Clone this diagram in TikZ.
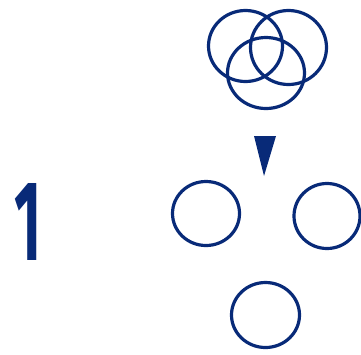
\documentclass[tikz,border=0pt]{standalone}
\usepackage{fontspec}
\setsansfont{Fira Sans}
\definecolor{navy}{RGB}{8,42,120}
\begin{document}
\begin{tikzpicture}[x=1pt,y=-1pt,
  ring/.style={draw=navy,line width=3.2pt},
  num/.style={text=navy,font=\sffamily\bfseries,inner sep=0pt,anchor=south}]
\useasboundingbox (0,0) rectangle (361,354);
\draw[ring] (245.5,46) ellipse [x radius=37,y radius=35.5];
\draw[ring] (288.5,47.5) ellipse [x radius=38,y radius=37];
\draw[ring] (266,73) ellipse [x radius=38.5,y radius=35.5];
\fill[navy] (254,136) -- (276,136) -- (264,176) -- cycle;
\draw[ring] (206,213.5) ellipse [x radius=33.5,y radius=32];
\draw[ring] (327,216) ellipse [x radius=33,y radius=32.5];
\draw[ring] (265.5,315) ellipse [x radius=34,y radius=32.5];
\node[num] (one) at (28.5,261) {\resizebox{27pt}{77pt}{1}};
\end{tikzpicture}
\end{document}
